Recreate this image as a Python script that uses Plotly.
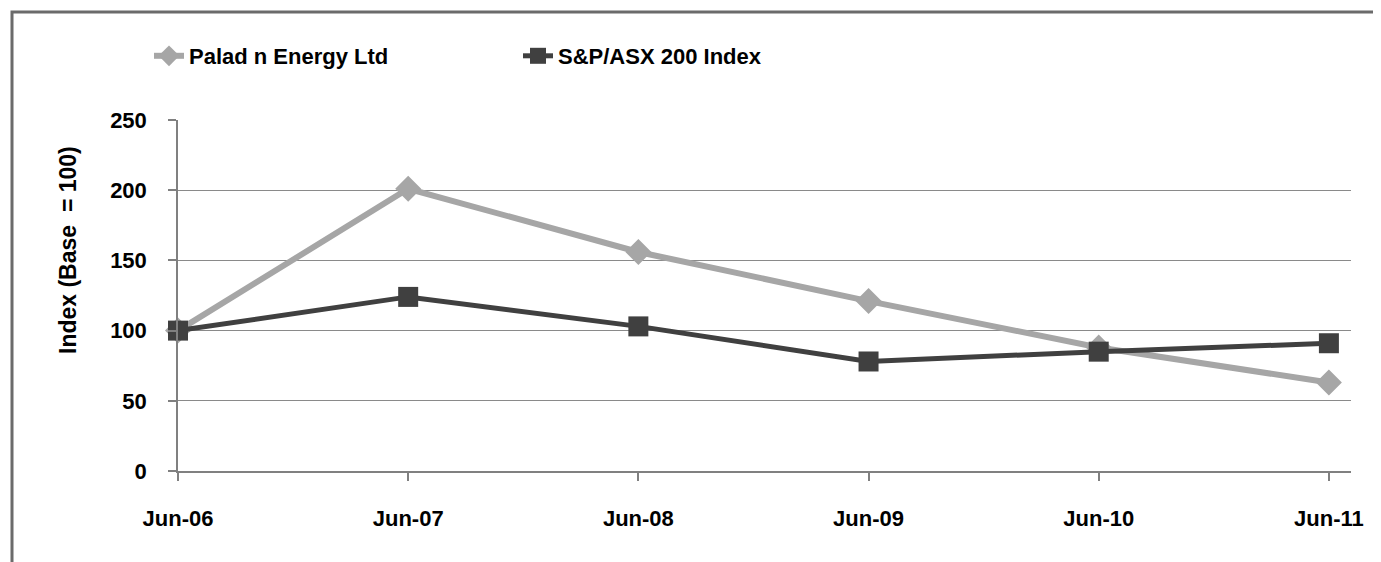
import plotly.graph_objects as go

categories = ["Jun-06", "Jun-07", "Jun-08", "Jun-09", "Jun-10", "Jun-11"]
paladin = [100, 201, 156, 121, 88, 63]
asx200 = [100, 124, 103, 78, 85, 91]
y_ticks = [0, 50, 100, 150, 200, 250]

FONT = "Liberation Sans, Arial, sans-serif"
FS = 22

W, H = 1381, 562
OFF = 8  # page body margin offset
# plot area in page pixels
PX0, PX1, PY0, PY1 = 178, 1351, 120, 471
L = PX0 - OFF
R = W - (PX1 - OFF)
T = PY0 - OFF
B = H - (PY1 - OFF)
pw, ph = W - L - R, H - T - B

def px_x(x):
    return (x - PX0) / pw

def px_y(y):
    return (PY1 - y) / ph

fig = go.Figure()
fig.add_trace(go.Scatter(
    x=categories, y=paladin, name="Palad n Energy Ltd", mode="lines+markers",
    line=dict(color="#A6A6A6", width=6),
    marker=dict(symbol="diamond", size=20, color="#A6A6A6"),
    cliponaxis=False,
))
fig.add_trace(go.Scatter(
    x=categories, y=asx200, name="S&P/ASX 200 Index", mode="lines+markers",
    line=dict(color="#404040", width=5),
    marker=dict(symbol="square", size=20, color="#404040"),
    cliponaxis=False,
))

fig.update_layout(
    width=W, height=H,
    margin=dict(l=L, r=R, t=T, b=B, autoexpand=False),
    paper_bgcolor="white", plot_bgcolor="white",
    font=dict(family=FONT, size=FS, color="black"),
    showlegend=True,
    legend=dict(
        orientation="h", x=px_x(149), y=px_y(35), xanchor="left", yanchor="top",
        font=dict(family=FONT, size=FS, color="black", weight="bold"),
        entrywidth=324, entrywidthmode="pixels",
        bgcolor="rgba(0,0,0,0)",
    ),
    xaxis=dict(
        type="category", range=[0, 5.096],
        showgrid=False, showline=True, linecolor="#808080", linewidth=2,
        ticks="outside", ticklen=8, tickcolor="#808080", tickwidth=2,
        tickfont=dict(family=FONT, size=FS, color="black", weight="bold"),
        ticklabelstandoff=19,
        zeroline=False,
    ),
    yaxis=dict(
        range=[0, 250], tickvals=y_ticks,
        showgrid=True, gridcolor="#8a8a8a", gridwidth=1.2,
        showline=True, linecolor="#808080", linewidth=1.5,
        ticks="outside", ticklen=8, tickcolor="#808080", tickwidth=1.5,
        tickfont=dict(family=FONT, size=FS, color="black", weight="bold"),
        ticklabelstandoff=17,
        zeroline=False,
    ),
    shapes=[dict(
        type="rect", xref="paper", yref="paper",
        x0=px_x(12), x1=px_x(1378), y0=px_y(620), y1=px_y(12),
        line=dict(color="#6b6b6b", width=3), fillcolor="rgba(0,0,0,0)", layer="below",
    )],
    annotations=[dict(
        text="Index (Base  = 100)", textangle=-90,
        xref="paper", yref="paper", x=px_x(68), y=px_y(250),
        xanchor="center", yanchor="middle", showarrow=False,
        font=dict(family=FONT, size=FS + 1, color="black", weight="bold"),
    )],
)

fig.write_html("out.html")
